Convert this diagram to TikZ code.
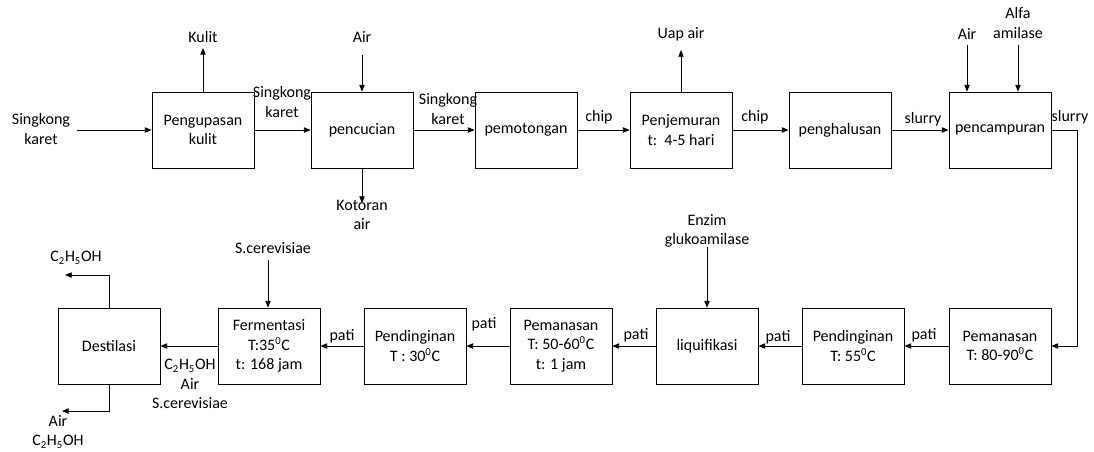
\documentclass[tikz,border=0pt]{standalone}
\usepackage{fontspec}
\setmainfont{Carlito}
\usepackage{tikz}
\usetikzlibrary{positioning, arrows.meta}

\begin{document}
\begin{tikzpicture}[x=0.75pt, y=-0.75pt,
  every node/.style={font=\fontsize{12}{14.5}\selectfont, align=center, inner sep=1pt},
  proses/.style={draw, line width=0.6pt, minimum width=76.5pt, minimum height=57pt, inner sep=2pt},
  alir/.style={-{Triangle[length=5pt,width=4pt]}, line width=0.6pt},
  garis/.style={line width=0.6pt}
]
  \useasboundingbox (0,0) rectangle (1094,451);

  % baris atas
  \node[proses] (kupas) at (203,130) {Pengupasan\\kulit};
  \node[proses] (cuci) at (362,130) {pencucian};
  \node[proses] (potong) at (526,130) {pemotongan};
  \node[proses] (jemur) at (681,130) {Penjemuran\\t:~~4-5 hari};
  \node[proses] (halus) at (840,130) {penghalusan};
  \node[proses] (campur) at (1000,130) {pencampuran};

  % baris bawah
  \node[proses] (panasA) at (1000,346) {Pemanasan\\T: 80-90\textsuperscript{0}C};
  \node[proses] (dinginA) at (853,346) {Pendinginan\\T: 55\textsuperscript{0}C};
  \node[proses] (liq) at (707,346) {liquifikasi};
  \node[proses] (panasB) at (561,346) {Pemanasan\\T: 50-60\textsuperscript{0}C\\t: 1 jam};
  \node[proses] (dinginB) at (415,346) {Pendinginan\\T : 30\textsuperscript{0}C};
  \node[proses] (ferm) at (269,346) {Fermentasi\\T:35\textsuperscript{0}C\\t: 168 jam};
  \node[proses] (destil) at (109,346) {Destilasi};

  % label
  \node (singkong) at (41,129) {Singkong\\karet};
  \node (kulit) at (203,37) {Kulit};
  \node (airA) at (362,37) {Air};
  \node (kotoran) at (362,215) {Kotoran\\air};
  \node (singkongB) at (282,102) {Singkong\\karet};
  \node (singkongC) at (448,109) {Singkong\\karet};
  \node (chipA) at (599,117) {chip};
  \node (uap) at (681,34) {Uap air};
  \node (chipB) at (755,117) {chip};
  \node (slurryA) at (923,119) {slurry};
  \node (airB) at (967,34) {Air};
  \node (alfa) at (1018,23) {Alfa\\amilase};
  \node (slurryB) at (1070,117) {slurry};

  \node (patiA) at (924,335) {pati};
  \node (patiB) at (778,337) {pati};
  \node (patiC) at (636,335) {pati};
  \node (patiD) at (484,324) {pati};
  \node (patiE) at (342,336) {pati};
  \node (enzim) at (707,231) {Enzim\\glukoamilase};
  \node (ragi) at (273,248) {S.cerevisiae};
  \node (campuranF) at (190,384) {C\textsubscript{2}H\textsubscript{5}OH\\Air\\S.cerevisiae};
  \node (etanolA) at (76,258) {C\textsubscript{2}H\textsubscript{5}OH};
  \node (etanolB) at (58,432) {Air\\C\textsubscript{2}H\textsubscript{5}OH};

  % ujung panah
  \coordinate (masuk) at (77,130);
  \coordinate (kulitU) at (203,48);
  \coordinate (airAU) at (362,55);
  \coordinate (kotoranU) at (362,203);
  \coordinate (uapU) at (681,50);
  \coordinate (airBU) at (967,45);
  \coordinate (alfaU) at (1018,45);
  \coordinate (belok) at (1077,130);
  \coordinate (enzimU) at (707,247);
  \coordinate (ragiU) at (268,260);
  \coordinate (atasU) at (65,275);
  \coordinate (bawahU) at (62,411);

  \draw[alir] (masuk) -- (kupas.west);
  \draw[alir] (kupas.north) -- (kulitU);
  \draw[alir] (airAU) -- (cuci.north);
  \draw[alir] (cuci.south) -- (kotoranU);
  \draw[alir] (kupas.east) -- (cuci.west);
  \draw[alir] (cuci.east) -- (potong.west);
  \draw[alir] (potong.east) -- (jemur.west);
  \draw[alir] (jemur.north) -- (uapU);
  \draw[alir] (jemur.east) -- (halus.west);
  \draw[alir] (halus.east) -- (campur.west);
  \draw[alir] (airBU) -- (airBU |- campur.north);
  \draw[alir] (alfaU) -- (alfaU |- campur.north);
  \draw[alir] (campur.east) -- (belok) |- (panasA.east);

  \draw[alir] (panasA.west) -- (dinginA.east);
  \draw[alir] (dinginA.west) -- (liq.east);
  \draw[alir] (liq.west) -- (panasB.east);
  \draw[alir] (panasB.west) -- (dinginB.east);
  \draw[alir] (dinginB.west) -- (ferm.east);
  \draw[alir] (ferm.west) -- (destil.east);
  \draw[alir] (enzimU) -- (liq.north);
  \draw[alir] (ragiU) -- (ragiU |- ferm.north);
  \draw[alir] (destil.north) |- (atasU);
  \draw[alir] (destil.south) |- (bawahU);
\end{tikzpicture}
\end{document}
